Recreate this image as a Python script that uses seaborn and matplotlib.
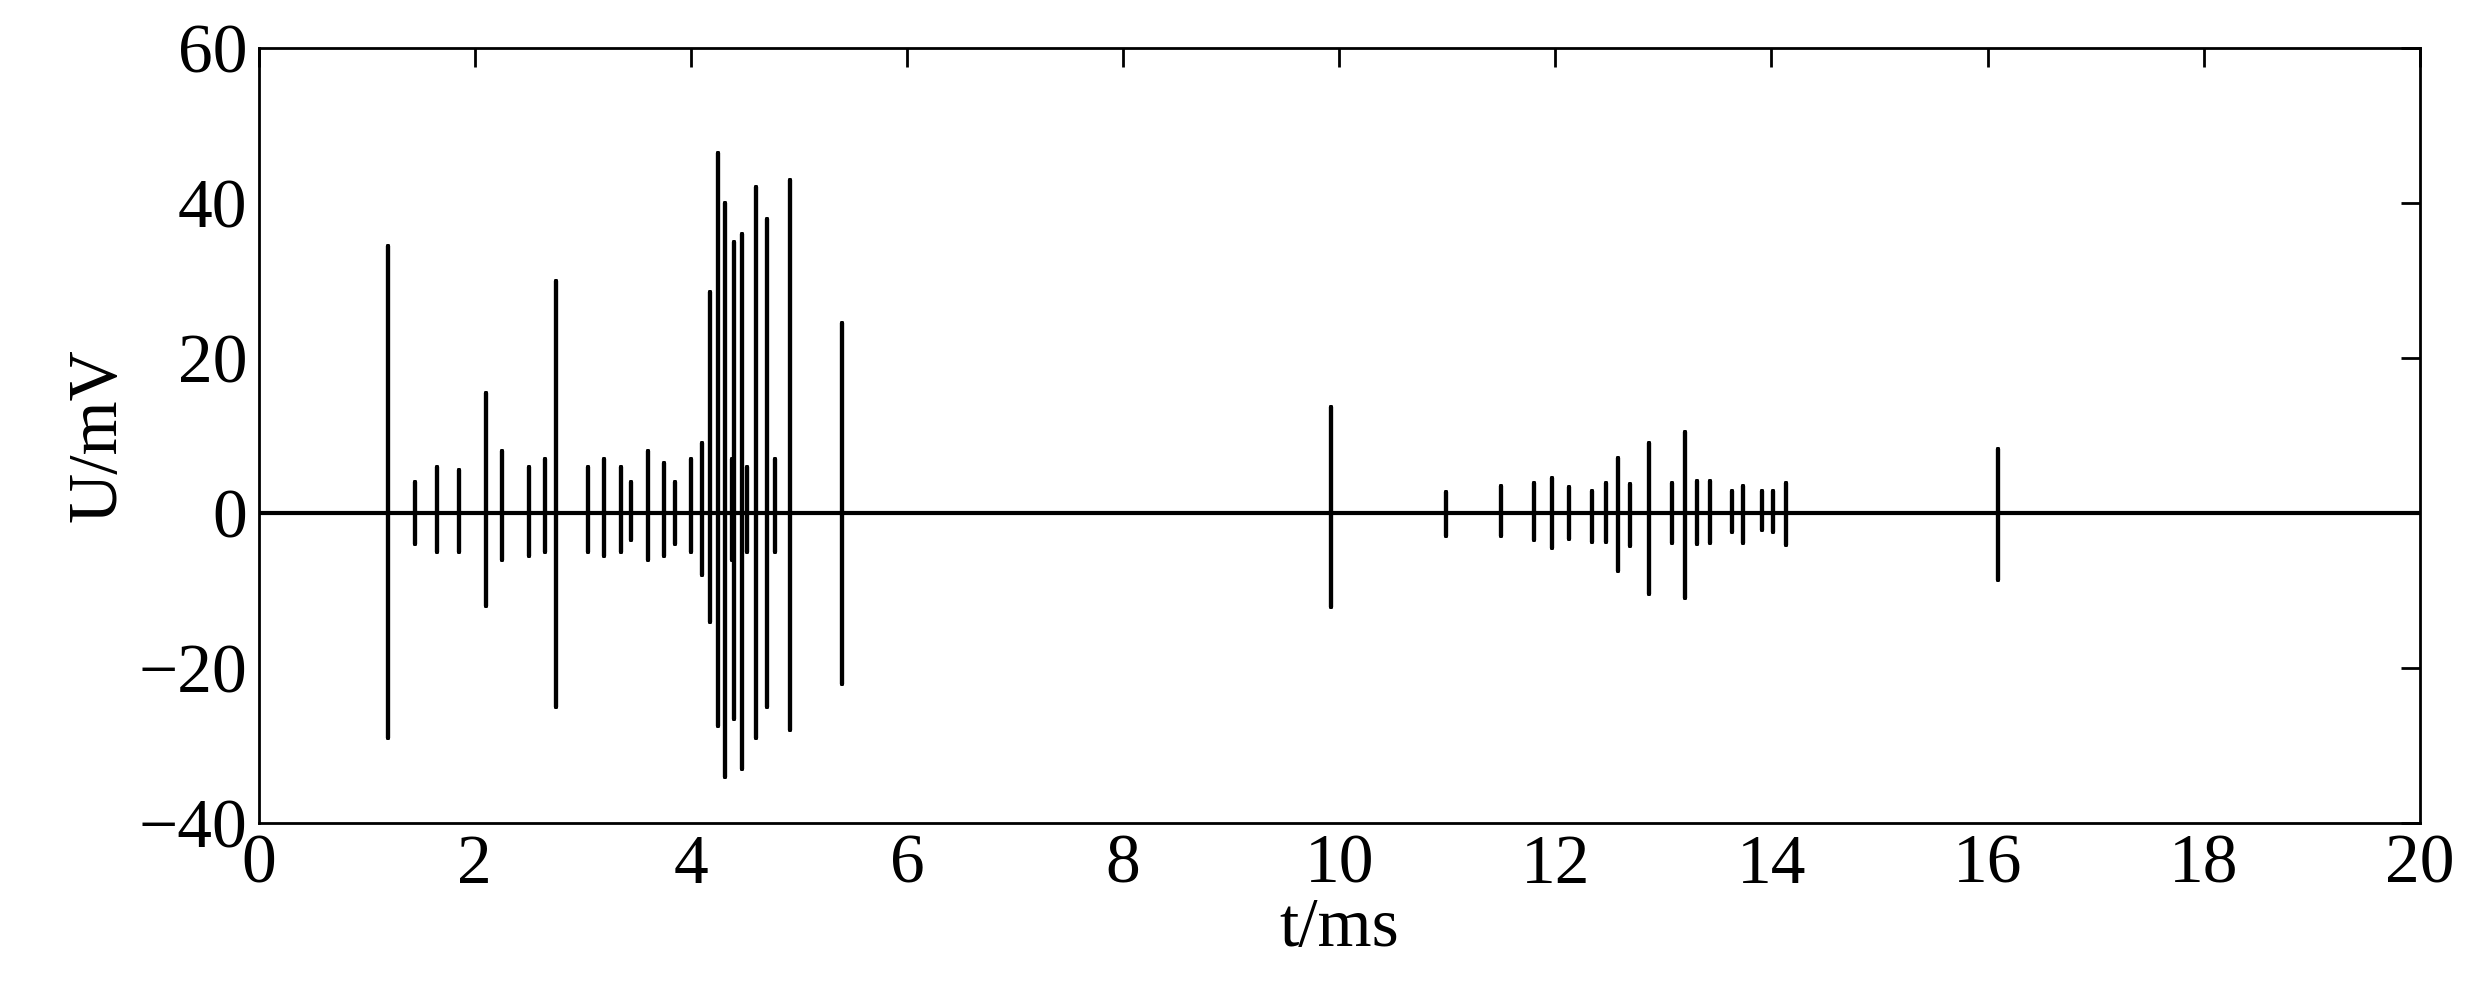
import numpy as np
import pandas as pd
import matplotlib
matplotlib.use("Agg")
import matplotlib.pyplot as plt
import seaborn as sns

pulse_t = [1.2, 1.45, 1.65, 1.85, 2.1, 2.25, 2.5, 2.65, 2.75, 3.05, 3.2, 3.35, 3.45, 3.6, 3.75, 3.85,
           4.0, 4.1, 4.18, 4.25, 4.32, 4.38, 4.40, 4.47, 4.52, 4.6, 4.7, 4.78, 4.92, 5.4,
           9.92, 10.99, 11.5, 11.8, 11.97, 12.13, 12.34, 12.47, 12.58, 12.69, 12.87, 13.08, 13.2,
           13.31, 13.43, 13.63, 13.74, 13.91, 14.01, 14.13, 16.1]
pulse_top = [34.5, 4, 6, 5.5, 15.5, 8, 6, 7, 30, 6, 7, 6, 4, 8, 6.5, 4,
             7, 9, 28.5, 46.5, 40, 7, 35, 36, 6, 42, 38, 7, 43, 24.5,
             13.7, 2.7, 3.5, 3.9, 4.5, 3.4, 2.8, 3.9, 7.1, 3.8, 9.0, 3.9, 10.5,
             4.2, 4.1, 2.8, 3.5, 2.9, 2.8, 3.9, 8.3]
pulse_bot = [-29, -4, -5, -5, -12, -6, -5.5, -5, -25, -5, -5.5, -5, -3.5, -6, -5.5, -4,
             -5, -8, -14, -27.5, -34, -6, -26.5, -33, -5, -29, -25, -5, -28, -22,
             -12.1, -2.9, -3.0, -3.5, -4.5, -3.3, -3.7, -3.7, -7.5, -4.3, -10.4, -3.9, -11.0,
             -4.0, -3.9, -2.5, -3.9, -2.2, -2.4, -4.1, -8.6]
xticks = [0, 2, 4, 6, 8, 10, 12, 14, 16, 18, 20]
yticks = [-40, -20, 0, 20, 40, 60]

ts, us = [0.0], [0.0]
for t, a, b in zip(pulse_t, pulse_top, pulse_bot):
    ts += [t, t, t, t]
    us += [0.0, a, b, 0.0]
ts.append(20.0); us.append(0.0)
df = pd.DataFrame({"t": ts, "U": us})

sns.set_style("white")
plt.rcParams['font.family'] = ['Liberation Serif', 'DejaVu Serif']
plt.rcParams['text.color'] = 'black'
plt.rcParams['axes.labelcolor'] = 'black'
plt.rcParams['xtick.color'] = 'black'
plt.rcParams['ytick.color'] = 'black'
fig = plt.figure(figsize=(24.87, 9.99), dpi=100)
ax = fig.add_axes([0.104, 0.176, 0.869, 0.776])
sns.lineplot(data=df, x="t", y="U", sort=False, estimator=None, color="black", linewidth=3, ax=ax)
ax.set_xlim(0, 20)
ax.set_ylim(-40, 60)
ax.set_xticks(xticks)
ax.set_yticks(yticks)
ax.set_yticklabels([str(v).replace('-', '\u2212') for v in yticks])
ax.tick_params(direction='in', length=14, width=2, labelsize=50, top=True, right=True, pad=8,
               colors='black')
for s in ax.spines.values():
    s.set_linewidth(2); s.set_color('black')
ax.set_xlabel("t/ms", fontsize=50, labelpad=0, color='black')
ax.set_ylabel("U/mV", fontsize=50, labelpad=6, color='black')
fig.savefig("out.png", dpi=100)
